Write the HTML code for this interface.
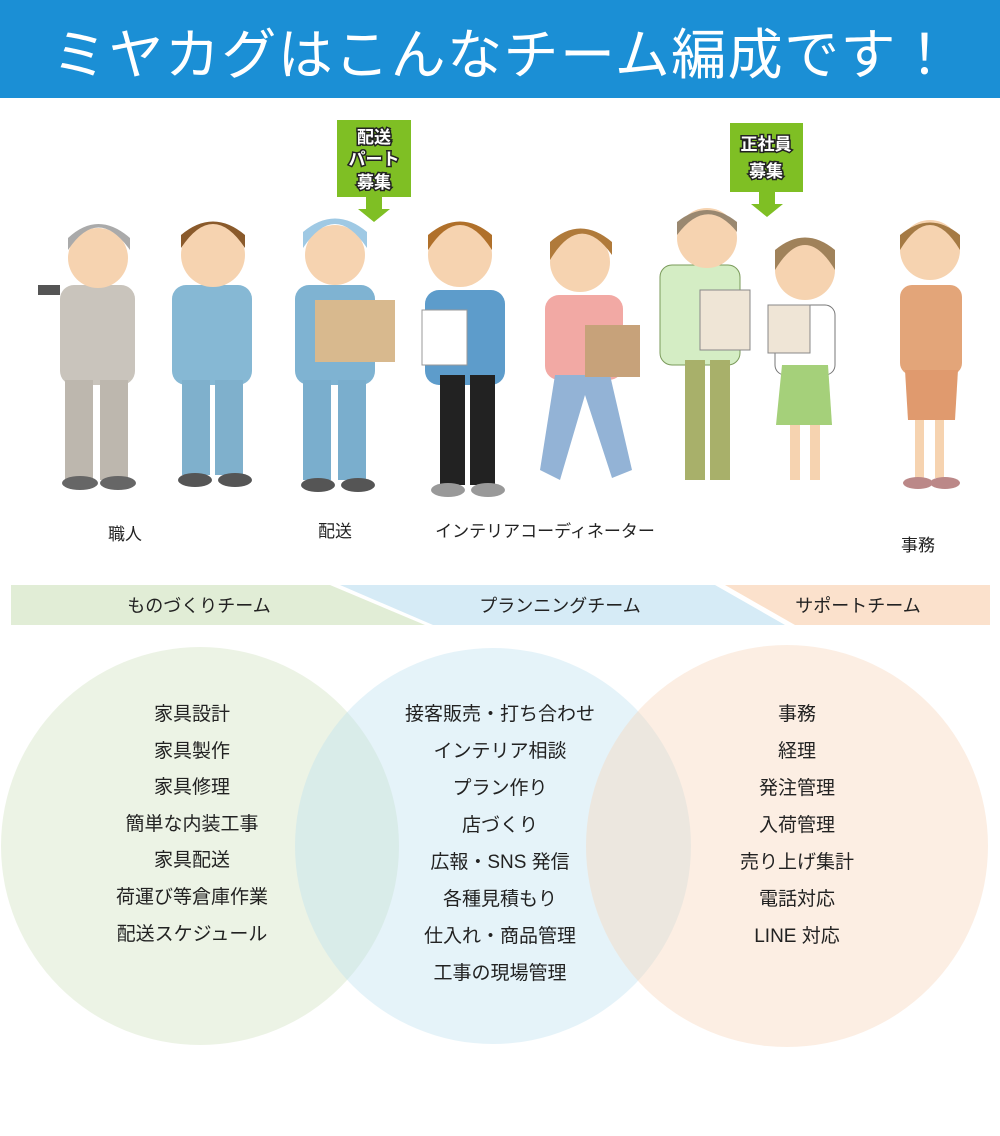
<!DOCTYPE html>
<html><head><meta charset="utf-8"><style>
body{margin:0;width:1000px;height:1136px;background:#fff;overflow:hidden;font-family:"Liberation Sans","Noto Sans CJK JP",sans-serif}
svg{position:absolute;left:0;top:0}
</style></head><body>
<svg width="1000" height="1136" viewBox="0 0 1000 1136" font-family="Liberation Sans, Noto Sans CJK JP, sans-serif">
<rect x="0" y="0" width="1000" height="98" fill="#1b8fd5"/>
<text x="502" y="74" font-size="55" fill="#fff" text-anchor="middle" textLength="900" lengthAdjust="spacing">ミヤカグはこんなチーム編成です！</text>

<!-- green tags -->
<g fill="#7fbf24">
<rect x="337" y="120" width="74" height="77"/><rect x="366" y="197" width="16" height="12"/><polygon points="358,209 390,209 374,222"/>
<rect x="730" y="123" width="73" height="69"/><rect x="759" y="192" width="16" height="12"/><polygon points="751,204 783,204 767,217"/>
</g>
<g font-size="17" font-weight="bold" fill="#fff" stroke="#222" stroke-width="3" paint-order="stroke" text-anchor="middle">
<text x="374" y="143">配送</text><text x="374" y="165">パート</text><text x="374" y="188">募集</text>
<text x="766" y="150">正社員</text><text x="766" y="177">募集</text>
</g>

<!-- people -->
<g>
<rect x="60" y="285" width="75" height="100" rx="14" fill="#c9c4bc"/>
<rect x="65" y="380" width="28" height="100" fill="#bdb7ae"/><rect x="100" y="380" width="28" height="100" fill="#bdb7ae"/>
<circle cx="98" cy="258" r="30" fill="#f6d3b0"/><path d="M68 250 Q98 205 130 250 L130 238 Q98 210 68 238Z" fill="#aaa"/>
<ellipse cx="80" cy="483" rx="18" ry="7" fill="#666"/><ellipse cx="118" cy="483" rx="18" ry="7" fill="#666"/>
<rect x="38" y="285" width="22" height="10" fill="#555"/>
<rect x="172" y="285" width="80" height="100" rx="14" fill="#86b8d4"/>
<rect x="182" y="380" width="28" height="95" fill="#7fb0cc"/><rect x="215" y="380" width="28" height="95" fill="#7fb0cc"/>
<circle cx="213" cy="255" r="32" fill="#f6d3b0"/><path d="M181 248 Q213 200 245 248 L245 235 Q213 208 181 235Z" fill="#8a5a2b"/>
<ellipse cx="195" cy="480" rx="17" ry="7" fill="#555"/><ellipse cx="235" cy="480" rx="17" ry="7" fill="#555"/>
<rect x="295" y="285" width="80" height="100" rx="14" fill="#7fb3d2"/>
<rect x="303" y="380" width="28" height="100" fill="#7aaecd"/><rect x="338" y="380" width="28" height="100" fill="#7aaecd"/>
<circle cx="335" cy="255" r="30" fill="#f6d3b0"/><path d="M303 248 Q335 200 367 248 L367 232 Q335 205 303 232Z" fill="#9fc9e4"/>
<rect x="315" y="300" width="80" height="62" fill="#d8b98e"/>
<ellipse cx="318" cy="485" rx="17" ry="7" fill="#555"/><ellipse cx="358" cy="485" rx="17" ry="7" fill="#555"/>
<rect x="425" y="290" width="80" height="95" rx="14" fill="#5d9ccb"/>
<rect x="440" y="375" width="25" height="110" fill="#222"/><rect x="470" y="375" width="25" height="110" fill="#222"/>
<circle cx="460" cy="255" r="32" fill="#f6d3b0"/><path d="M428 250 Q460 200 492 250 L492 235 Q460 208 428 235Z" fill="#b0702a"/>
<rect x="422" y="310" width="45" height="55" fill="#fff" stroke="#999"/>
<ellipse cx="448" cy="490" rx="17" ry="7" fill="#999"/><ellipse cx="488" cy="490" rx="17" ry="7" fill="#999"/>
<rect x="545" y="295" width="78" height="85" rx="14" fill="#f2a9a4"/>
<path d="M555 375 L610 375 L632 470 L612 478 L585 395 L560 480 L540 470Z" fill="#93b3d6"/>
<circle cx="580" cy="262" r="30" fill="#f6d3b0"/><path d="M550 260 Q580 210 612 255 L612 242 Q580 215 550 242Z" fill="#b07a3a"/>
<rect x="585" y="325" width="55" height="52" fill="#c7a27a"/>
<rect x="660" y="265" width="80" height="100" rx="12" fill="#d4edc4" stroke="#7a9a5a"/>
<rect x="685" y="360" width="20" height="120" fill="#a8b06a"/><rect x="710" y="360" width="20" height="120" fill="#a8b06a"/>
<circle cx="707" cy="238" r="30" fill="#f6d3b0"/><path d="M677 235 Q707 195 737 232 L737 222 Q707 198 677 222Z" fill="#9a8870"/>
<rect x="700" y="290" width="50" height="60" fill="#efe5d6" stroke="#888"/>
<rect x="775" y="305" width="60" height="70" rx="10" fill="#fff" stroke="#777"/>
<path d="M782 365 L828 365 L832 425 L776 425Z" fill="#a5d07a"/>
<rect x="790" y="425" width="10" height="55" fill="#f6d3b0"/><rect x="810" y="425" width="10" height="55" fill="#f6d3b0"/>
<circle cx="805" cy="270" r="30" fill="#f6d3b0"/><path d="M775 270 Q805 220 835 270 L835 250 Q805 225 775 250Z" fill="#a0825a"/>
<rect x="768" y="305" width="42" height="48" fill="#efe5d6" stroke="#888"/>
<rect x="900" y="285" width="62" height="90" rx="12" fill="#e3a579"/>
<path d="M905 370 L958 370 L955 420 L908 420Z" fill="#e09a6e"/>
<rect x="915" y="420" width="9" height="58" fill="#f6d3b0"/><rect x="935" y="420" width="9" height="58" fill="#f6d3b0"/>
<circle cx="930" cy="250" r="30" fill="#f6d3b0"/><path d="M900 250 Q930 200 960 250 L960 235 Q930 210 900 235Z" fill="#a57a44"/>
<ellipse cx="918" cy="483" rx="15" ry="6" fill="#b88"/><ellipse cx="945" cy="483" rx="15" ry="6" fill="#b88"/>
</g>

<g font-size="17" fill="#222" text-anchor="middle">
<text x="125" y="540">職人</text><text x="335" y="537">配送</text>
<text x="545" y="537">インテリアコーディネーター</text><text x="918" y="551">事務</text>
</g>

<polygon points="11,585 330,585 425,625 11,625" fill="#e1edd6"/>
<polygon points="340,585 715,585 785,625 433,625" fill="#d6ebf6"/>
<polygon points="725,585 990,585 990,625 795,625" fill="#fbe1cc"/>
<g font-size="18" fill="#222" text-anchor="middle">
<text x="199" y="612">ものづくりチーム</text><text x="560" y="612">プランニングチーム</text><text x="858" y="612">サポートチーム</text>
</g>

<circle cx="200" cy="846" r="199" fill="#cfe2be" fill-opacity="0.4"/>
<circle cx="493" cy="846" r="198" fill="#bfe1f0" fill-opacity="0.4"/>
<circle cx="787" cy="846" r="201" fill="#f8d4b8" fill-opacity="0.4"/>

<g font-size="19" fill="#222" text-anchor="middle">
<text x="192" y="720">家具設計</text><text x="192" y="757">家具製作</text><text x="192" y="793">家具修理</text><text x="192" y="830">簡単な内装工事</text><text x="192" y="866">家具配送</text><text x="192" y="903">荷運び等倉庫作業</text><text x="192" y="940">配送スケジュール</text>
<text x="500" y="720">接客販売・打ち合わせ</text><text x="500" y="757">インテリア相談</text><text x="500" y="794">プラン作り</text><text x="500" y="831">店づくり</text><text x="500" y="868">広報・SNS 発信</text><text x="500" y="905">各種見積もり</text><text x="500" y="942">仕入れ・商品管理</text><text x="500" y="979">工事の現場管理</text>
<text x="797" y="720">事務</text><text x="797" y="757">経理</text><text x="797" y="794">発注管理</text><text x="797" y="831">入荷管理</text><text x="797" y="868">売り上げ集計</text><text x="797" y="905">電話対応</text><text x="797" y="942">LINE 対応</text>
</g>
</svg>
</body></html>
